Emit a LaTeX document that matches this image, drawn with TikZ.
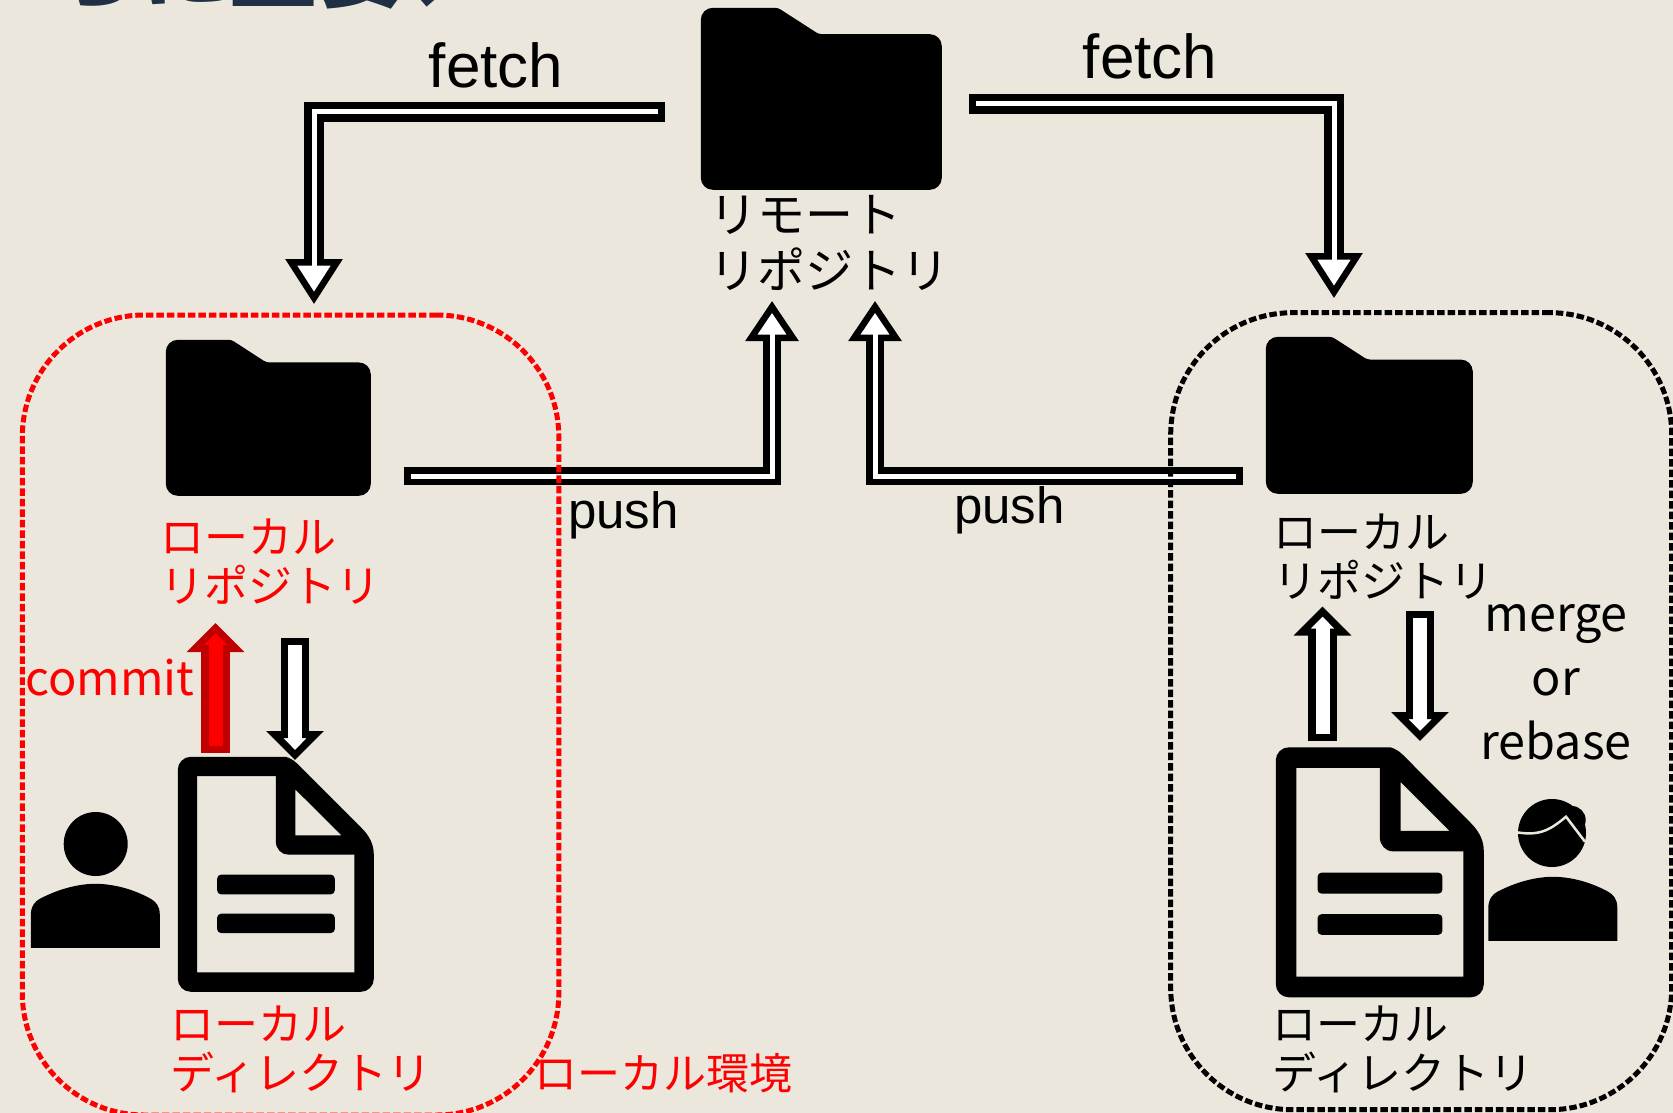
\documentclass[tikz,border=0pt]{standalone}
\usepackage{fontspec}
\usepackage{tikz}
\usetikzlibrary{arrows.meta}
\setmainfont{Noto Sans CJK JP}
\newfontfamily\arialfont{Liberation Sans}
\definecolor{paper}{HTML}{EBE7DC}
\definecolor{navy}{HTML}{1F3044}
\definecolor{darkred}{HTML}{C00000}
\tikzset{
  tag/.style={inner sep=0,anchor=base west,align=left,font=\fontsize{44}{49}\selectfont},
  envbox/.style={draw=#1,line width=5pt,dash pattern=on 7.5pt off 3pt,rounded corners=122pt,inner sep=0,outer sep=0,anchor=north west},
  longarrow/.style n args={3}{draw=white,line width=5pt,shorten <=7pt,shorten >=25pt,
    preaction={draw=black,line width=#1pt,shorten <=0pt,shorten >=0pt,
      -{Triangle[length=#2pt,width=#3pt,line width=6.5pt,color=black,fill=white]}}},
  blockarrow/.style 2 args={draw=#2,line width=14pt,shorten <=7pt,shorten >=18pt,
    preaction={draw=#1,line width=28.5pt,shorten <=0pt,shorten >=0pt,
      -{Triangle[length=29pt,width=56pt,line width=7pt,color=#1,fill=#2]}}},
}
\newcommand{\foldernode}[5]{% name, centre x, centre y, width, height
  \node[minimum width=#4 pt,minimum height=#5 pt,inner sep=0] (#1) at (#2,#3) {};
  \fill[shift={(#1.north west)},xscale=#4/100,yscale=#5/100,rounded corners=12pt]
    (0,50) -- (0,0) -- (25,0) [rounded corners=3pt] -- (32,0) -- (49,14.5) -- (60,14.5) [rounded corners=12pt] -- (100,14.5) -- (100,100) -- (0,100) -- cycle;
}
\newcommand{\docnode}[5]{% name, centre x, centre y, width, height
  \node[minimum width=#4 pt,minimum height=#5 pt,inner sep=0] (#1) at (#2,#3) {};
  \fill[even odd rule,shift={(#1.north west)},xscale=#4/588,yscale=#5/704]
    [rounded corners=13pt] (0,352) -- (0,0) -- (290,0) [sharp corners] -- (316,0) .. controls (340,0) and (355,17) .. (371,33) -- (551,213)
      .. controls (575,237) and (588,262) .. (588,293) -- (588,320) [rounded corners=13pt] -- (588,704) -- (0,704) -- cycle
    [sharp corners] (58,58) -- (294,58) -- (294,253) .. controls (294,275) and (310,293) .. (331,293) -- (530,293) -- (530,646) -- (58,646) -- cycle
    (353,98) -- (353,235) -- (491,235) -- cycle
    [rounded corners=4pt] (118,353) rectangle (471,412) (118,470) rectangle (471,528);
}
\newcommand{\bodynode}[3]{% name, centre x, centre y
  \node[minimum width=129pt,minimum height=64pt,inner sep=0] (#1) at (#2,#3) {};
  \fill[shift={(#1.north west)}] (0,64) -- (0,31) .. controls (0,22) and (5,17) .. (9,15)
    .. controls (30,4) and (50,0) .. (64.5,0) .. controls (80,0) and (100,4) .. (120,15)
    .. controls (125,18) and (129,22) .. (129,31) -- (129,64) -- cycle;
}
\begin{document}
\begin{tikzpicture}[x=1pt,y=-1pt]
  \useasboundingbox (0,0) rectangle (1673,1113);
  \clip (0,0) rectangle (1673,1113);
  \fill[paper] (0,0) rectangle (1673,1113);
  \node[inner sep=0,anchor=base west,text=navy,font=\fontsize{88}{88}\selectfont\bfseries] (title) at (53,1) {らに重要、}; %
  \foldernode{remote}{821.5}{99}{241}{182} %
  \foldernode{repoL}{268.5}{418}{205}{156} %
  \foldernode{repoR}{1369.5}{415.5}{207}{157} %
  \docnode{dirL}{276}{874.5}{196}{235} %
  \docnode{dirR}{1380}{872.5}{208}{250} %
  \node[circle,fill=black,minimum size=64pt,inner sep=0] (headL) at (95.7,844) {}; %
  \bodynode{bodyL}{95.5}{916} %
  \node[circle,fill=black,minimum size=68pt,inner sep=0] (headR) at (1552,833) {}; %
  \node[circle,fill=black,minimum size=28pt,inner sep=0] (hairR) at (1571.7,820) {}; %
  \draw[paper,line width=2.5pt] (1516.7,832.3) .. controls (1540,836) and (1550,830) .. (1566,816.7) -- (1585,841.7); %
  \bodynode{bodyR}{1553}{909} %
  \node[tag,font=\fontsize{48}{56}\selectfont] (remotetag) at (709,288) {リモート\\リポジトリ}; %
  \node[tag,text=red] (repoLtag) at (160,602) {ローカル\\リポジトリ}; %
  \node[tag,text=red] (dirLtag) at (170,1089) {ローカル\\ディレクトリ}; %
  \node[tag] (repoRtag) at (1273,597) {ローカル\\リポジトリ}; %
  \node[tag] (dirRtag) at (1272,1089) {ローカル\\ディレクトリ}; %
  \node[tag,font=\fontsize{43}{49}\selectfont,text=red] (envtag) at (534,1089) {ローカル環境}; %
  \node[inner sep=0,anchor=base,font=\arialfont\fontsize{62}{62}\selectfont] (fetchLtag) at (496,88) {fetch}; %
  \node[inner sep=0,anchor=base,font=\arialfont\fontsize{62}{62}\selectfont] (fetchRtag) at (1150,79) {fetch}; %
  \node[inner sep=0,anchor=base,font=\arialfont\fontsize{51}{51}\selectfont] (pushLtag) at (623.5,528) {push}; %
  \node[inner sep=0,anchor=base,font=\arialfont\fontsize{51}{51}\selectfont] (pushRtag) at (1009.5,523) {push}; %
  \node[inner sep=0,anchor=base west,text=red,font=\fontsize{47}{48}\selectfont] (committag) at (25,695) {commit}; %
  \node[inner sep=0,anchor=base,align=center,font=\fontsize{48.5}{64}\selectfont] (mergetag) at (1556,759) {merge\\or\\rebase}; %
  \coordinate (a1) at (665,111.7); %
  \coordinate (a2) at (314,304); %
  \coordinate (b1) at (968.7,104); %
  \coordinate (b2) at (1334,298); %
  \coordinate (c1) at (404,476.3); %
  \coordinate (c2) at (772,301); %
  \coordinate (d1) at (1243,476.3); %
  \coordinate (d2) at (875,301); %
  \draw[longarrow={20}{45}{56}] (a1) -| (a2);
  \draw[longarrow={20}{45}{56}] (b1) -| (b2);
  \draw[longarrow={18}{40}{52}] (c1) -| (c2);
  \draw[longarrow={18}{40}{52}] (d1) -| (d2);
  \coordinate (e1) at (215.5,753); %
  \coordinate (e2) at (215.5,623); %
  \coordinate (f1) at (295,638); %
  \coordinate (f2) at (295,760); %
  \coordinate (g1) at (1322.5,741); %
  \coordinate (g2) at (1322.5,606.5); %
  \coordinate (h1) at (1420,611); %
  \coordinate (h2) at (1420,741); %
  \draw[blockarrow={darkred}{red}] (e1) -- (e2);
  \draw[blockarrow={black}{white}] (f1) -- (f2);
  \draw[blockarrow={black}{white}] (g1) -- (g2);
  \draw[blockarrow={black}{white}] (h1) -- (h2);
  \node[envbox=red,minimum width=536.5pt,minimum height=800pt] (envL) at (22.3,315) {}; %
  \node[envbox=black,minimum width=501pt,minimum height=797pt] (envR) at (1170.7,312.7) {}; %
\end{tikzpicture}
\end{document}
